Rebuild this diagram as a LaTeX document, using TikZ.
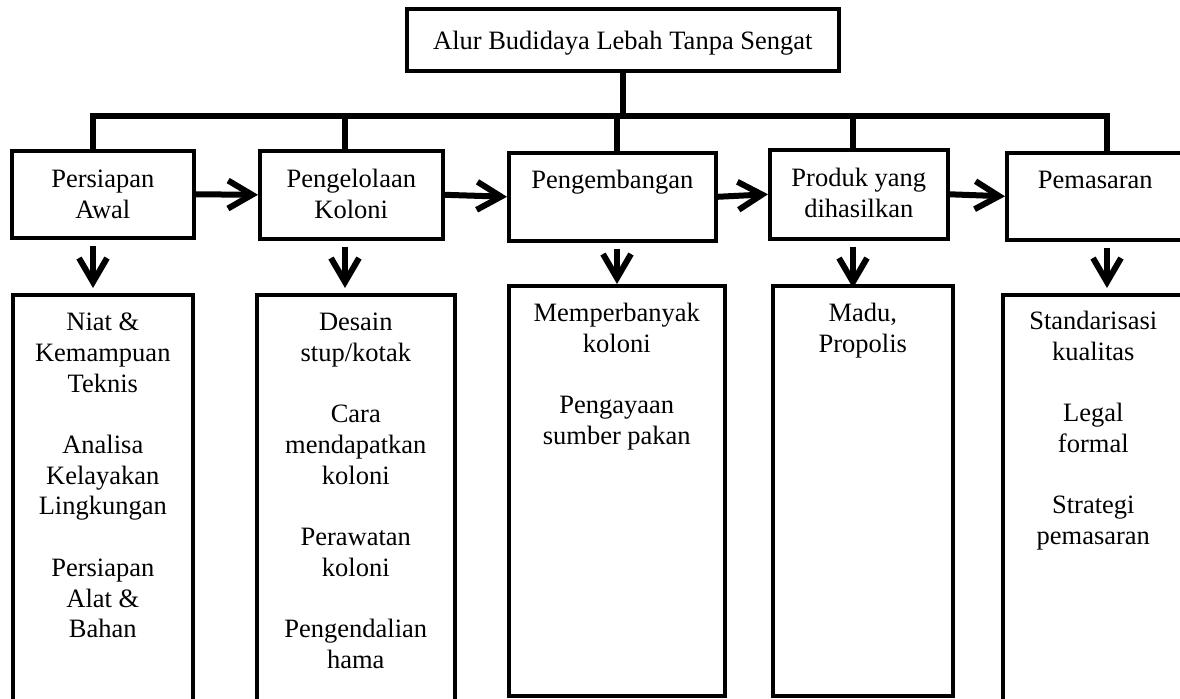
\documentclass[tikz,border=0pt]{standalone}
\usepackage{fontspec}
\setmainfont{Liberation Serif}
\usetikzlibrary{arrows.meta, calc}
\newcommand{\isi}[4][18pt]{\parbox[t][#2][t]{#3}{\centering\rule{0pt}{#1}#4}}
\tikzset{
    kotak/.style={draw, line width=1.8pt, rectangle, inner sep=0pt,
                  anchor=north west,
                  font=\fontsize{13.25pt}{15.35pt}\selectfont},
    garis/.style={-, line width=3pt},
    panah/.style={-{Straight Barb[length=12pt, width=14pt]}, line width=3pt},
}

\begin{document}
\begin{tikzpicture}[x=0.5pt, y=-0.5pt]
\useasboundingbox (0,0) rectangle (1180,699);
% --- judul ---
\node[kotak] (judul) at (405,7)
    {\isi[20.5pt]{31pt}{216pt}{Alur Budidaya Lebah Tanpa Sengat}};

% --- tahap (baris atas) ---
\node[kotak] (s-awal) at (10,149) {\isi[18.5pt]{43.5pt}{91pt}{Persiapan\\Awal}};
\node[kotak] (s-koloni) at (258,149) {\isi[18.5pt]{44pt}{91.5pt}{Pengelolaan\\Koloni}};
\node[kotak] (s-kembang) at (507,151) {\isi{44pt}{103.5pt}{Pengembangan}};
\node[kotak] (s-produk) at (768,148) {\isi[18.5pt]{44.5pt}{89pt}{Produk yang\\dihasilkan}};
\node[kotak] (s-pasar) at (1005,151) {\isi{43.5pt}{88.5pt}{Pemasaran}};

% --- rincian (baris bawah) ---
\node[kotak] (d-awal) at (11,293) {\isi{212pt}{90pt}{Niat \&\\Kemampuan\\Teknis
    \\[\baselineskip]Analisa\\Kelayakan\\Lingkungan
    \\[\baselineskip]Persiapan\\Alat \&\\Bahan}};
\node[kotak] (d-koloni) at (255,293) {\isi{212pt}{99pt}{Desain\\stup/kotak
    \\[\baselineskip]Cara\\mendapatkan\\koloni
    \\[\baselineskip]Perawatan\\koloni
    \\[\baselineskip]Pengendalian\\hama}};
\node[kotak] (d-kembang) at (507,284) {\isi{205pt}{108pt}{Memperbanyak\\koloni
    \\[\baselineskip]Pengayaan\\sumber pakan}};
\node[kotak] (d-produk) at (771,284) {\isi{205pt}{90pt}{Madu,\\Propolis}};
\node[kotak] (d-pasar) at (1001,293) {\isi[17.5pt]{212pt}{90.5pt}{Standarisasi\\kualitas
    \\[\baselineskip]Legal\\formal
    \\[\baselineskip]Strategi\\pemasaran}};

% --- garis cabang ---
\coordinate (c-1) at (93,116);
\coordinate (c-2) at (345,116);
\coordinate (c-3) at (617,116);
\coordinate (c-4) at (853,116);
\coordinate (c-5) at (1107,116);
\draw[garis] (judul.south) -- (judul.south |- c-1);
\draw[garis] (c-1 |- s-awal.north) -- (c-1) -- (c-5) -- (c-5 |- s-pasar.north);
\foreach \i/\s in {2/koloni, 3/kembang, 4/produk}
    \draw[garis] (c-\i) -- (c-\i |- s-\s.north);

% --- alur antar tahap ---
\draw[panah] (s-awal.east) -- (s-koloni.west);
\draw[panah] (s-koloni.east) -- (s-kembang.west);
\draw[panah] (s-kembang.east) -- (s-produk.west);
\draw[panah] (s-produk.east) -- (s-pasar.west);

% --- tahap ke rincian ---
\foreach \i/\s/\d in {1/awal/-5, 2/koloni/-5, 3/kembang/0, 4/produk/4, 5/pasar/-5}
    \draw[panah] ($(c-\i |- s-\s.south)+(0,6)$) -- ($(c-\i |- d-\s.north)+(0,\d)$);
\end{tikzpicture}
\end{document}
